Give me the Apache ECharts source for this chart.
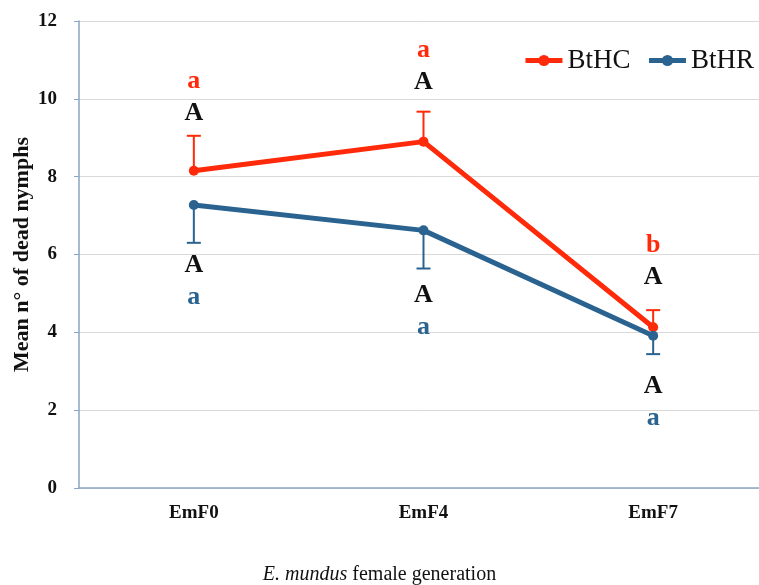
<!DOCTYPE html>
<html>
<head>
<meta charset="utf-8">
<script src="https://cdn.jsdelivr.net/npm/echarts@6/dist/echarts.min.js"></script>
<style>
  html, body { margin: 0; padding: 0; background: #fff; }
  #chart { width: 759px; height: 585px; }
</style>
</head>
<body>
<div id="chart"></div>
<script>
// Generations on the x axis
var categories = ['EmF0', 'EmF4', 'EmF7'];
// Mean number of dead nymphs and standard errors
var btHC = [8.15, 8.90, 4.13];
var btHCErr = [0.90, 0.77, 0.44];
var btHR = [7.27, 6.62, 3.91];
var btHRErr = [0.97, 0.98, 0.47];
// Significance letters (upper: between wasp generations, lower: between groups)
var btHCUpper = ['A', 'A', 'A'];
var btHCLower = ['a', 'a', 'b'];
var btHRUpper = ['A', 'A', 'A'];
var btHRLower = ['a', 'a', 'a'];
// Y axis ticks
var yTicks = [0, 2, 4, 6, 8, 10, 12];

var RED = '#ff2a0a';
var BLUE = '#2a6390';
var FONT = 'Liberation Serif';

// pixel gaps between the error-bar end and the letters
var hcGap = [23, 29, 33];
var hrGap = [22, 27, 32];
var letterStep = 32;

function errorSeries(values, errs, dir, color, upper, lower, gaps) {
  return {
    type: 'custom',
    z: 3,
    silent: true,
    data: values.map(function (v, i) { return [i, v, errs[i]]; }),
    renderItem: function (params, api) {
      var i = api.value(0);
      var v = api.value(1);
      var e = api.value(2);
      var p0 = api.coord([i, v]);
      var p1 = api.coord([i, v + dir * e]);
      var cap = 7;
      var g = gaps[i];
      var yA = p1[1] - dir * g;
      var ya = yA - dir * letterStep;
      return {
        type: 'group',
        children: [
          { type: 'line', shape: { x1: p0[0], y1: p0[1], x2: p1[0], y2: p1[1] },
            style: { stroke: color, lineWidth: 2 } },
          { type: 'line', shape: { x1: p1[0] - cap, y1: p1[1], x2: p1[0] + cap, y2: p1[1] },
            style: { stroke: color, lineWidth: 2 } },
          { type: 'text', style: { x: p1[0], y: yA, text: upper[i], fill: '#111',
              font: 'bold 26px "' + FONT + '"', align: 'center', verticalAlign: 'middle' } },
          { type: 'text', style: { x: p1[0], y: ya, text: lower[i], fill: color,
              font: 'bold 26px "' + FONT + '"', align: 'center', verticalAlign: 'middle' } }
        ]
      };
    }
  };
}

var chart = echarts.init(document.getElementById('chart'), null, { renderer: 'canvas' });
chart.setOption({
  animation: false,
  backgroundColor: '#fff',
  grid: { left: 79, top: 21, bottom: 97, right: -9, containLabel: false, outerBoundsMode: 'none' },
  title: {
    text: '{i|E. mundus} female generation',
    left: 'center',
    top: 560,
    textStyle: {
      fontFamily: FONT, fontSize: 20, fontWeight: 'normal', color: '#111',
      rich: {
        i: { fontFamily: FONT, fontSize: 20, fontStyle: 'italic', color: '#111' }
      }
    }
  },
  legend: {
    data: ['BtHC', 'BtHR'],
    top: 42,
    right: 0,
    itemWidth: 37,
    itemHeight: 14,
    itemGap: 16,
    lineStyle: { width: 5 },
    textStyle: { fontFamily: FONT, fontSize: 27, color: '#111' }
  },
  xAxis: {
    type: 'category',
    data: categories,
    boundaryGap: true,
    axisLine: { lineStyle: { color: '#8aa6c6', width: 1.5 } },
    axisTick: { show: false },
    axisLabel: { fontFamily: FONT, fontWeight: 'bold', fontSize: 19, color: '#111', margin: 16 }
  },
  yAxis: {
    type: 'value',
    min: 0,
    max: 12,
    interval: 2,
    axisLine: { show: true, lineStyle: { color: '#8aa6c6', width: 1.5 } },
    axisTick: { show: true, length: 5, lineStyle: { color: '#8aa6c6' } },
    splitLine: { lineStyle: { color: '#d9d9d9', width: 1 } },
    axisLabel: {
      fontFamily: FONT, fontWeight: 'bold', fontSize: 19, color: '#111', margin: 22,
      formatter: function (v) { return yTicks.indexOf(v) >= 0 ? String(v) : ''; }
    },
    name: 'Mean n° of dead nymphs',
    nameLocation: 'middle',
    nameGap: 46,
    nameMoveOverlap: false,
    nameTextStyle: { fontFamily: FONT, fontWeight: 'bold', fontSize: 22, color: '#111' }
  },
  series: [
    {
      name: 'BtHC', type: 'line', data: btHC, z: 4,
      symbol: 'circle', symbolSize: 10,
      lineStyle: { color: RED, width: 5 },
      itemStyle: { color: RED }
    },
    {
      name: 'BtHR', type: 'line', data: btHR, z: 4,
      symbol: 'circle', symbolSize: 10,
      lineStyle: { color: BLUE, width: 5 },
      itemStyle: { color: BLUE }
    },
    errorSeries(btHC, btHCErr, 1, RED, btHCUpper, btHCLower, hcGap),
    errorSeries(btHR, btHRErr, -1, BLUE, btHRUpper, btHRLower, hrGap)
  ]
});
</script>
</body>
</html>
